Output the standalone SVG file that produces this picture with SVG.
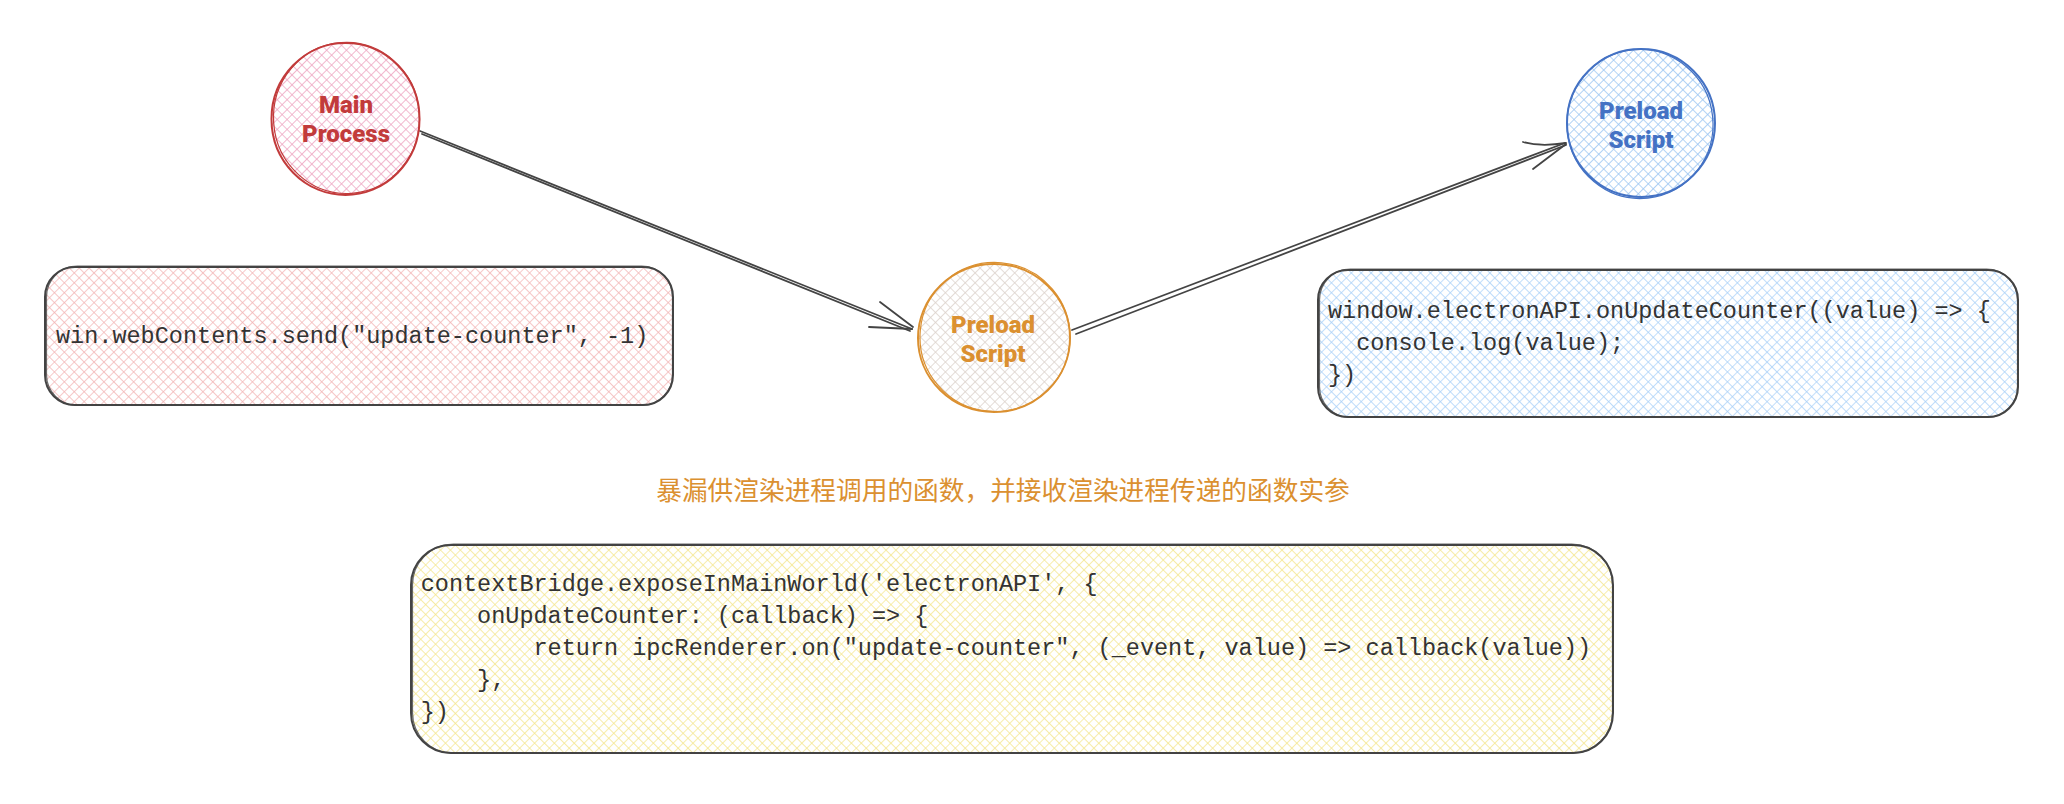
<svg xmlns="http://www.w3.org/2000/svg" width="2064" height="804" viewBox="0 0 2064 804">
<style>
.code{font-family:"Liberation Mono","DejaVu Sans Mono",monospace;font-size:23.5px;fill:#333333}
.lbl{font-family:Roboto,"Liberation Sans",sans-serif;font-weight:900;font-size:24px;text-anchor:middle}
.box{fill:none;stroke:#444444;stroke-width:2}
.box2{fill:none;stroke:#444444;stroke-width:1.2;opacity:0.8}
.conn{fill:none;stroke:#444444;stroke-width:1.8;stroke-linecap:round;stroke-linejoin:round}
.cn{font-family:"Noto Sans CJK SC","Noto Sans",sans-serif;font-size:25.7px;fill:#db9030;text-anchor:middle}
</style>
<defs>
<pattern id="hPink" patternUnits="userSpaceOnUse" width="7" height="7" patternTransform="rotate(45)">
<path d="M0 0V7M0 0H7" stroke="#eea6c2" stroke-width="1.6"/>
</pattern>
<pattern id="hGray" patternUnits="userSpaceOnUse" width="7" height="7" patternTransform="rotate(45)">
<path d="M0 0V7M0 0H7" stroke="#dcd2cc" stroke-width="1.6"/>
</pattern>
<pattern id="hBlue" patternUnits="userSpaceOnUse" width="7" height="7" patternTransform="rotate(45)">
<path d="M0 0V7M0 0H7" stroke="#9cc6f2" stroke-width="1.6"/>
</pattern>
<pattern id="hRose" patternUnits="userSpaceOnUse" width="7" height="7" patternTransform="rotate(45)">
<path d="M0 0V7M0 0H7" stroke="#f2b4b4" stroke-width="1.4"/>
</pattern>
<pattern id="hSky" patternUnits="userSpaceOnUse" width="7" height="7" patternTransform="rotate(45)">
<path d="M0 0V7M0 0H7" stroke="#a8d0f8" stroke-width="1.4"/>
</pattern>
<pattern id="hYel" patternUnits="userSpaceOnUse" width="7" height="7" patternTransform="rotate(45)">
<path d="M0 0V7M0 0H7" stroke="#f4e58a" stroke-width="1.4"/>
</pattern>
</defs>
<rect width="2064" height="804" fill="#ffffff"/>

<g id="connectors">
<g id="arrow-main-preload">
<path class="conn" d="M420 131 L912 329"/>
<path class="conn" d="M422 134 L910 331"/>
<path class="conn" d="M880 302 L913 327"/>
<path class="conn" d="M869 327 L912 329"/>
</g>
<g id="arrow-preload-renderer">
<path class="conn" d="M1072 330 L1565 143"/>
<path class="conn" d="M1076 334 L1566 145"/>
<path class="conn" d="M1523 142 Q1540 147 1566 143"/>
<path class="conn" d="M1533 169 L1566 144"/>
</g>
</g>

<g id="main-process">
<ellipse cx="345.5" cy="119" rx="74" ry="76" fill="url(#hPink)"/>
<ellipse cx="345.5" cy="119" rx="74" ry="76" fill="none" stroke="#c23b3b" stroke-width="2"/>
<ellipse cx="346.5" cy="118" rx="73" ry="75.5" fill="none" stroke="#c23b3b" stroke-width="1.2" transform="rotate(-4 346 118)"/>
<text class="lbl" x="346" y="113" fill="#c23b3b">Main</text>
<text class="lbl" x="346" y="142" fill="#c23b3b">Process</text>
</g>

<g id="preload-orange">
<ellipse cx="994" cy="338" rx="76" ry="74" fill="url(#hGray)"/>
<ellipse cx="994" cy="338" rx="76" ry="74" fill="none" stroke="#db9030" stroke-width="2"/>
<ellipse cx="995" cy="337" rx="75" ry="74.5" fill="none" stroke="#db9030" stroke-width="1.2" transform="rotate(5 995 337)"/>
<text class="lbl" x="993" y="333" fill="#db9030">Preload</text>
<text class="lbl" x="993" y="362" fill="#db9030">Script</text>
</g>

<g id="preload-blue">
<ellipse cx="1641" cy="123" rx="74" ry="74" fill="url(#hBlue)"/>
<ellipse cx="1641" cy="123" rx="74" ry="74" fill="none" stroke="#4472c4" stroke-width="2"/>
<ellipse cx="1640" cy="124" rx="73" ry="74.5" fill="none" stroke="#4472c4" stroke-width="1.2" transform="rotate(-6 1640 124)"/>
<text class="lbl" x="1641" y="119" fill="#4472c4">Preload</text>
<text class="lbl" x="1641" y="148" fill="#4472c4">Script</text>
</g>

<g id="send-box">
<rect x="45" y="267" width="628" height="138" rx="30" fill="url(#hRose)"/>
<rect class="box" x="45" y="267" width="628" height="138" rx="30"/>
<rect class="box2" x="46.5" y="266" width="626" height="139.5" rx="31"/>
<text class="code" x="56" y="343">win.webContents.send("update-counter", -1)</text>
</g>

<g id="renderer-box">
<rect x="1318" y="270" width="700" height="147" rx="30" fill="url(#hSky)"/>
<rect class="box" x="1318" y="270" width="700" height="147" rx="30"/>
<rect class="box2" x="1319.5" y="269" width="698" height="148.5" rx="31"/>
<text class="code" x="1328" y="318">window.electronAPI.onUpdateCounter((value) =&gt; {</text>
<text class="code" x="1356.2" y="350">console.log(value);</text>
<text class="code" x="1328" y="382">})</text>
</g>

<g id="note">
<text class="cn" x="1003" y="500">暴漏供渲染进程调用的函数，并接收渲染进程传递的函数实参</text>
</g>

<g id="bridge-box">
<rect x="411" y="545" width="1202" height="208" rx="40" fill="url(#hYel)"/>
<rect class="box" x="411" y="545" width="1202" height="208" rx="40"/>
<rect class="box2" x="412.5" y="544" width="1200" height="209.5" rx="41"/>
<text class="code" x="420.7" y="591">contextBridge.exposeInMainWorld('electronAPI', {</text>
<text class="code" x="477.1" y="623">onUpdateCounter: (callback) =&gt; {</text>
<text class="code" x="533.5" y="655">return ipcRenderer.on("update-counter", (_event, value) =&gt; callback(value))</text>
<text class="code" x="477.1" y="687">},</text>
<text class="code" x="420.7" y="719">})</text>
</g>
</svg>
